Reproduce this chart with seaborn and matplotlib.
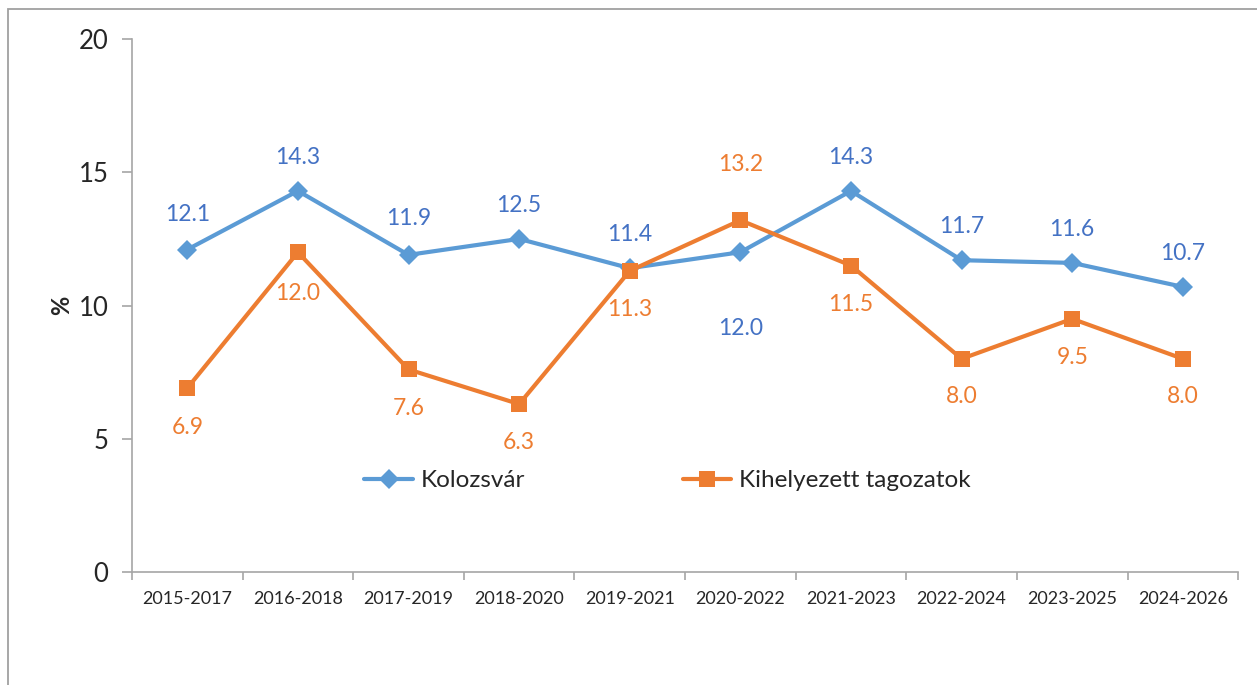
import pandas as pd
import matplotlib.pyplot as plt
import seaborn as sns
from matplotlib.patches import Rectangle

# data
periods = ['2015-2017', '2016-2018', '2017-2019', '2018-2020', '2019-2021',
           '2020-2022', '2021-2023', '2022-2024', '2023-2025', '2024-2026']
kolozsvar = [12.1, 14.3, 11.9, 12.5, 11.4, 12.0, 14.3, 11.7, 11.6, 10.7]
kihelyezett = [6.9, 12.0, 7.6, 6.3, 11.3, 13.2, 11.5, 8.0, 9.5, 8.0]
series_names = ['Kolozsvár', 'Kihelyezett tagozatok']

# label offsets (points, vertical)
off_kol = [25, 24, 26, 24, 24, -55, 24, 24, 24, 24]
off_kih = [-28, -30, -28, -28, -28, 40, -28, -27, -28, -27]

sns.set_style("white")
plt.rcParams['font.family'] = ['Lato', 'DejaVu Sans']

blue_line = '#5B9BD5'
blue_text = '#4472C4'
orange = '#ED7D31'
axis_gray = '#A6A6A6'

df = pd.DataFrame({
    'period': periods * 2,
    'value': kolozsvar + kihelyezett,
    'series': [series_names[0]] * len(periods) + [series_names[1]] * len(periods),
})

fig = plt.figure(figsize=(12.57, 6.85), dpi=100)
ax = fig.add_axes([0.105, 0.165, 0.88, 0.778])

sns.lineplot(data=df, x='period', y='value', hue='series', style='series',
             palette=[blue_line, orange], markers=['D', 's'], dashes=False,
             linewidth=3, markeredgewidth=0, ax=ax, sort=False)
marker_sizes = [10, 12]
for line, ms in zip(ax.lines, marker_sizes):
    line.set_markersize(ms)

# data labels
for i, v in enumerate(kolozsvar):
    ax.annotate(f"{v:.1f}", (i, v), xytext=(0, off_kol[i]), textcoords='offset points',
                ha='center', va='center', fontsize=16.5, color=blue_text)
for i, v in enumerate(kihelyezett):
    ax.annotate(f"{v:.1f}", (i, v), xytext=(0, off_kih[i]), textcoords='offset points',
                ha='center', va='center', fontsize=16.5, color=orange)

ax.set_ylim(0, 20)
ax.set_xlim(-0.5, len(periods) - 0.5)
ax.set_yticks([0, 5, 10, 15, 20])
ax.set_xticks(range(len(periods)))
ax.set_xticklabels(periods)
ax.set_xticks([i - 0.5 for i in range(len(periods) + 1)], minor=True)
ax.tick_params(axis='x', which='major', length=0, labelsize=13, pad=14)
ax.tick_params(axis='x', which='minor', length=6, color=axis_gray, width=1.2, bottom=True)
ax.tick_params(axis='y', length=7, color=axis_gray, width=1.2, labelsize=18.5, pad=10, left=True)

ax.set_xlabel('')
ax.set_ylabel('%', fontsize=17, fontweight='bold', labelpad=4)

for side in ['top', 'right']:
    ax.spines[side].set_visible(False)
for side in ['left', 'bottom']:
    ax.spines[side].set_color(axis_gray)
    ax.spines[side].set_linewidth(1.2)

leg = ax.legend(loc='center', bbox_to_anchor=(0.484, 0.171), ncol=2, frameon=False,
                fontsize=17.5, columnspacing=6.5, handlelength=2.0, handletextpad=0.3)
for h, ms in zip(leg.get_lines(), marker_sizes):
    h.set_markersize(ms)
    h.set_linewidth(3)

# outer chart border
fig.patches.append(Rectangle((8 / 1257, -0.1), 1.2, 1.1 - 9.5 / 685, transform=fig.transFigure,
                             fill=False, edgecolor='#A0A0A0', linewidth=1.3))

plt.savefig('out.png', dpi=100)
